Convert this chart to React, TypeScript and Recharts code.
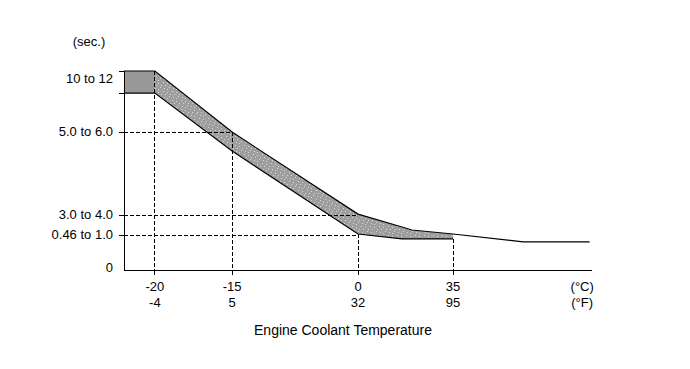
import { ComposedChart, Area, Line, XAxis, YAxis, ReferenceLine } from "recharts";

const X_POS = [0, 6.6, 23.1, 50, 59.4, 61.5, 70.3, 85.3, 99.5];
const UPPER = [100, 100, 69.3, 28.1, 21.6, 20.1, 18.1, 14.1, 14.1];
const LOWER = [88.9, 88.9, 59.8, 18.1, 15.6, 15.6, 15.6, null, null];

// x axis (engine coolant temperature)
const TEMP_POS = [6.6, 23.1, 50, 70.3];
const TEMP_C = ["-20", "-15", "0", "35"];
const TEMP_F = ["-4", "5", "32", "95"];
const UNIT_POS = 97.9;

// y axis (time)
const TIME_POS = [0, 17.1, 27.6, 69.3, 88.9, 100];
const TIME_LABELS = ["0", "0.46 to 1.0", "3.0 to 4.0", "5.0 to 6.0", "", "10 to 12"];

// dashed guide lines
const GUIDES_H = [
  { y: 69.3, to: 23.1 },
  { y: 27.6, to: 50 },
  { y: 17.1, to: 50 },
];
const GUIDES_V = [
  { x: 6.6, from: 100 },
  { x: 23.1, from: 69.3 },
  { x: 50, from: 18.1 },
  { x: 70.3, from: 15.6 },
];

const FONT = "'Liberation Sans', Arial, sans-serif";
const LABEL_SHIFT: Record<string, number> = { "0": -3, "10 to 12": 7 };

const data = X_POS.map((x, i) => ({
  x,
  upper: UPPER[i],
  lower: LOWER[i],
  block: i <= 1 ? [LOWER[i], UPPER[i]] : null,
  band: i >= 1 && LOWER[i] != null ? [LOWER[i], UPPER[i]] : null,
}));

const TempTick = ({ x, y, payload }: any) => {
  const i = TEMP_POS.indexOf(payload.value);
  const isUnit = i < 0;
  return (
    <g>
      {!isUnit && <line x1={x} x2={x} y1={y} y2={y + 5} stroke="#000" shapeRendering="crispEdges" />}
      <text x={x} y={y + 16} textAnchor="middle" dominantBaseline="central" fontSize={13} fontFamily={FONT} fill="#000">
        {isUnit ? "(°C)" : TEMP_C[i]}
      </text>
      <text x={x} y={y + 32} textAnchor="middle" dominantBaseline="central" fontSize={13} fontFamily={FONT} fill="#000">
        {isUnit ? "(°F)" : TEMP_F[i]}
      </text>
    </g>
  );
};

const TimeTick = ({ x, y, payload }: any) => {
  const label = TIME_LABELS[TIME_POS.indexOf(payload.value)] ?? "";
  return (
    <g>
      {payload.value > 0 && <line x1={x - 5} x2={x} y1={y} y2={y} stroke="#000" shapeRendering="crispEdges" />}
      <text
        x={x - 11}
        y={y + (LABEL_SHIFT[label] ?? -1)}
        textAnchor="end"
        dominantBaseline="central"
        fontSize={13}
        fontFamily={FONT}
        fill="#000"
      >
        {label}
      </text>
    </g>
  );
};

export default function App() {
  return (
    <div style={{ position: "absolute", left: 0, top: 0, background: "#fff" }}>
      <ComposedChart
        width={690}
        height={369}
        data={data}
        margin={{ top: 71, right: 98, bottom: 39, left: 0 }}
      >
        <defs>
          <pattern id="speckle" width="9" height="9" patternUnits="userSpaceOnUse">
            <rect width="9" height="9" fill="#9e9e9e" />
            <rect x="1" y="1" width="1" height="1" fill="#d8d8d8" />
            <rect x="5" y="2" width="1" height="1" fill="#d8d8d8" />
            <rect x="3" y="4" width="1" height="1" fill="#d8d8d8" />
            <rect x="8" y="4" width="1" height="1" fill="#d8d8d8" />
            <rect x="7" y="6" width="1" height="1" fill="#d8d8d8" />
            <rect x="2" y="7" width="1" height="1" fill="#d8d8d8" />
            <rect x="5" y="8" width="1" height="1" fill="#d8d8d8" />
          </pattern>
        </defs>
        <XAxis
          dataKey="x"
          type="number"
          domain={[0, 100]}
          ticks={[...TEMP_POS, UNIT_POS]}
          tick={<TempTick />}
          tickLine={false}
          tickSize={0}
          tickMargin={0}
          height={60}
          axisLine={{ stroke: "#000", shapeRendering: "crispEdges" }}
          interval={0}
          label={{
            value: "Engine Coolant Temperature",
            content: ({ viewBox }: any) => (
              <text
                x={viewBox.x + 219}
                y={viewBox.y + 60}
                textAnchor="middle"
                dominantBaseline="central"
                fontSize={14}
                fontFamily={FONT}
                fill="#000"
              >
                Engine Coolant Temperature
              </text>
            ),
          }}
        />
        <YAxis
          type="number"
          domain={[0, 100]}
          ticks={TIME_POS}
          tick={<TimeTick />}
          tickLine={false}
          tickSize={0}
          tickMargin={0}
          width={124}
          interval={0}
          axisLine={{ stroke: "#000", shapeRendering: "crispEdges" }}
          label={{
            value: "(sec.)",
            content: ({ viewBox }: any) => (
              <text
                x={viewBox.x + 89}
                y={viewBox.y - 30}
                textAnchor="middle"
                dominantBaseline="central"
                fontSize={13}
                fontFamily={FONT}
                fill="#000"
              >
                (sec.)
              </text>
            ),
          }}
        />
        <Area dataKey="block" type="linear" fill="#999999" fillOpacity={1} stroke="none" isAnimationActive={false} />
        <Area dataKey="band" type="linear" fill="url(#speckle)" fillOpacity={1} stroke="none" isAnimationActive={false} />
        {GUIDES_H.map((g) => (
          <ReferenceLine
            key={`h${g.y}`}
            segment={[{ x: 0, y: g.y }, { x: g.to, y: g.y }]}
            stroke="#000"
            strokeDasharray="4 2"
            shapeRendering="crispEdges"
          />
        ))}
        {GUIDES_V.map((g) => (
          <ReferenceLine
            key={`v${g.x}`}
            segment={[{ x: g.x, y: g.from }, { x: g.x, y: 0 }]}
            stroke="#000"
            strokeDasharray="4 2"
            shapeRendering="crispEdges"
          />
        ))}
        <Line dataKey="upper" type="linear" stroke="#000" strokeWidth={1.2} dot={false} activeDot={false} isAnimationActive={false} />
        <Line dataKey="lower" type="linear" stroke="#000" strokeWidth={1.2} dot={false} activeDot={false} isAnimationActive={false} />
      </ComposedChart>
    </div>
  );
}
